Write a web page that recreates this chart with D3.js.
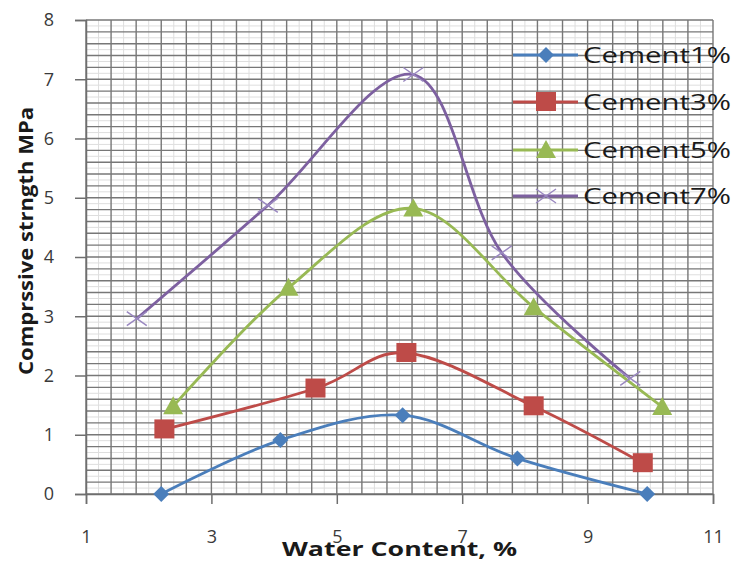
<!DOCTYPE html>
<html>
<head>
<meta charset="utf-8">
<script src="https://cdn.jsdelivr.net/npm/d3@7"></script>
<style>
html,body{margin:0;padding:0;background:#fff;}
svg{display:block;}
</style>
</head>
<body>
<svg id="chart" width="737" height="565"></svg>
<script>
// ---- data ----
const seriesNames = ["Cement 1%", "Cement 3%", "Cement 5%", "Cement 7%"];
const water1 = [2.2, 4.1, 6.05, 7.88, 9.95];
const cement1 = [0, 0.91, 1.33, 0.6, 0];
const water3 = [2.25, 4.66, 6.11, 8.14, 9.88];
const cement3 = [1.09, 1.78, 2.38, 1.48, 0.52];
const water5 = [2.39, 4.23, 6.22, 8.14, 10.19];
const cement5 = [1.48, 3.48, 4.82, 3.15, 1.47];
const water7 = [1.81, 3.9, 6.22, 7.63, 9.68];
const cement7 = [2.96, 4.87, 7.08, 4.07, 1.95];
const xTicks = [1, 3, 5, 7, 9, 11];
const yTicks = [0, 1, 2, 3, 4, 5, 6, 7, 8];

const colors = ["#4A7EBB", "#BE4B48", "#98B954", "#7D60A0"];
const markers = ["diamond", "square", "triangle", "cross"];

const svg = d3.select("#chart");
const x = d3.scaleLinear().domain([1, 11]).range([86, 713]);
const y = d3.scaleLinear().domain([0, 8]).range([494, 20]);

// grid: faint minor lines, then darker lines
const grid = svg.append("g");
grid.selectAll("line.vf").data(d3.range(1.2, 11, 0.4)).enter().append("line")
  .attr("x1", d => x(d)).attr("x2", d => x(d))
  .attr("y1", y(0)).attr("y2", y(8))
  .attr("stroke", "#dedede").attr("stroke-width", 1);
grid.selectAll("line.hf").data(d3.range(0.1, 8, 0.2)).enter().append("line")
  .attr("x1", x(1)).attr("x2", x(11))
  .attr("y1", d => y(d)).attr("y2", d => y(d))
  .attr("stroke", "#dedede").attr("stroke-width", 1);
grid.selectAll("line.v").data(d3.range(1, 11.001, 0.4)).enter().append("line")
  .attr("x1", d => x(d)).attr("x2", d => x(d))
  .attr("y1", y(0)).attr("y2", y(8))
  .attr("stroke", "#777").attr("stroke-width", 1.4);
grid.selectAll("line.h").data(d3.range(0, 8.001, 0.2)).enter().append("line")
  .attr("x1", x(1)).attr("x2", x(11))
  .attr("y1", d => y(d)).attr("y2", d => y(d))
  .attr("stroke", "#777").attr("stroke-width", 1.4);

// axes
const yAxis = d3.axisLeft(y).tickValues(yTicks).tickSize(11).tickPadding(20).tickFormat(d3.format("d"));
const gy = svg.append("g").attr("transform", `translate(${x(1)},0)`).call(yAxis);
const xAxis = d3.axisBottom(x).tickValues(xTicks).tickSize(10).tickPadding(26).tickFormat(d3.format("d"));
const gx = svg.append("g").attr("transform", `translate(0,${y(0)})`).call(xAxis);
[gy, gx].forEach(g => {
  g.select(".domain").attr("stroke", "#6e6e6e").attr("stroke-width", 1.5);
  g.selectAll(".tick line").attr("stroke", "#6e6e6e").attr("stroke-width", 1.5);
  g.selectAll(".tick text").attr("fill", "#3a3a3a").style("font-family", "Open Sans, sans-serif").style("font-size", "18px");
});
gy.selectAll(".tick text").attr("x", -32);

// series
const data = [
  water1.map((w, i) => [w, cement1[i]]),
  water3.map((w, i) => [w, cement3[i]]),
  water5.map((w, i) => [w, cement5[i]]),
  water7.map((w, i) => [w, cement7[i]])
];
const line = d3.line().x(d => x(d[0])).y(d => y(d[1])).curve(d3.curveCardinal.tension(0));

function drawMarker(g, type, cx, cy, color) {
  if (type === "diamond") {
    g.append("path").attr("d", `M${cx},${cy-8}L${cx+8},${cy}L${cx},${cy+8}L${cx-8},${cy}Z`).attr("fill", color);
  } else if (type === "square") {
    g.append("rect").attr("x", cx-10).attr("y", cy-10).attr("width", 20).attr("height", 19).attr("fill", color);
  } else if (type === "triangle") {
    g.append("path").attr("d", `M${cx},${cy-10}L${cx+10},${cy+8}L${cx-10},${cy+8}Z`).attr("fill", color);
  } else {
    g.append("path").attr("d", `M${cx-10},${cy-7}L${cx+10},${cy+7}M${cx-10},${cy+7}L${cx+10},${cy-7}`)
      .attr("stroke", "#9a88c0").attr("stroke-width", 1.5).attr("fill", "none");
  }
}

data.forEach((pts, i) => {
  const g = svg.append("g");
  g.append("path").attr("d", line(pts)).attr("fill", "none")
    .attr("stroke", colors[i]).attr("stroke-width", 2.8);
  pts.forEach(p => drawMarker(g, markers[i], x(p[0]), y(p[1]), colors[i]));
});

// legend
const legendY = [55, 102, 150, 196];
seriesNames.forEach((name, i) => {
  const g = svg.append("g");
  g.append("line").attr("x1", 513).attr("x2", 578).attr("y1", legendY[i]).attr("y2", legendY[i])
    .attr("stroke", colors[i]).attr("stroke-width", 2.8);
  drawMarker(g, markers[i], 546, legendY[i], colors[i]);
  g.append("text").attr("x", 583).attr("y", legendY[i] + 8)
    .attr("fill", "#1a1a1a").style("font-family", "Open Sans, sans-serif").style("font-size", "22px")
    .attr("textLength", 148).attr("lengthAdjust", "spacingAndGlyphs")
    .text(name.replace(" ", ""));
});

// axis titles
svg.append("text").attr("x", 282).attr("y", 556)
  .attr("fill", "#1a1a1a").style("font-family", "Open Sans, sans-serif").style("font-weight", "bold").style("font-size", "19px")
  .attr("textLength", 235).attr("lengthAdjust", "spacingAndGlyphs")
  .text("Water Content, %");
svg.append("text").attr("transform", "translate(33,375) rotate(-90)")
  .attr("fill", "#1a1a1a").style("font-family", "Open Sans, sans-serif").style("font-weight", "bold").style("font-size", "19px")
  .attr("textLength", 268).attr("lengthAdjust", "spacingAndGlyphs")
  .text("Comprssive strngth MPa");
</script>
</body>
</html>
